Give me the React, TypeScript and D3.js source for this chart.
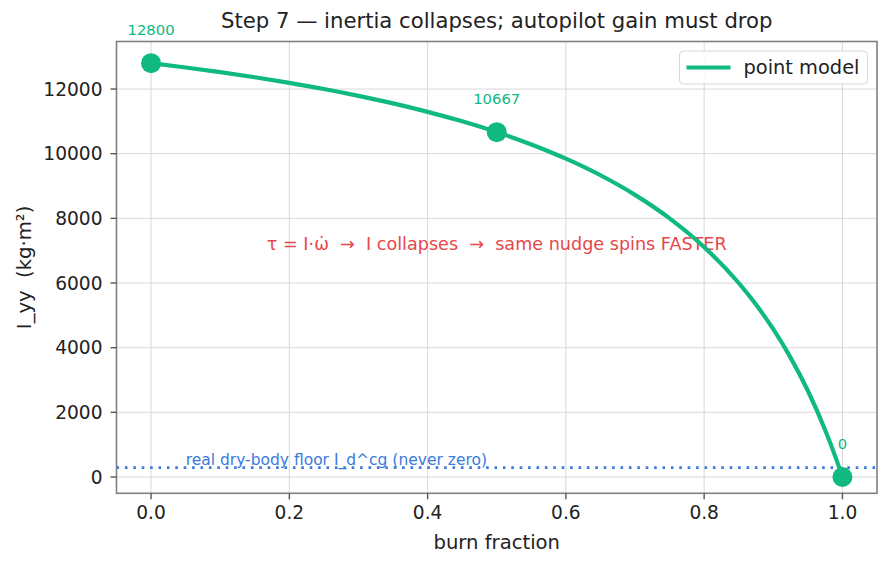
import * as d3 from 'd3';
import React from 'react';

// I_yy vs burn fraction (point-mass model)
const burnFrac = [0, 0.05, 0.1, 0.15, 0.2, 0.25, 0.3, 0.35, 0.4, 0.45, 0.5, 0.55, 0.6, 0.65, 0.7, 0.75, 0.8, 0.85, 0.875, 0.9, 0.925, 0.95, 0.975, 0.99, 1.0];
const iyy = [12800, 12667, 12522, 12364, 12190, 12000, 11789, 11556, 11294, 11000, 10667, 10286, 9846, 9333, 8727, 8000, 7111, 6000, 5333, 4571, 3692, 2667, 1455, 615, 0];

// highlighted points with value labels
const markFrac = [0, 0.5, 1.0];
const markVal = [12800, 10667, 0];

const floorVal = 290;
const xTicks = [0, 0.2, 0.4, 0.6, 0.8, 1.0];
const yTicks = [0, 2000, 4000, 6000, 8000, 10000, 12000];

const GREEN = '#10b981';
const BLUE = '#3a7bdc';
const RED = '#e6474b';
const FONT = '"DejaVu Sans", sans-serif';

const App: React.FC = () => {
  const W = 890;
  const H = 567;
  const margin = { top: 41.5, right: 13, bottom: 73.7, left: 116.5 };
  const innerW = W - margin.left - margin.right;
  const innerH = H - margin.top - margin.bottom;

  const x = d3.scaleLinear().domain([-0.05, 1.05]).range([0, innerW]);
  const y = d3.scaleLinear().domain([-504, 13470]).range([innerH, 0]);

  const line = d3
    .line<number>()
    .x((_, i) => x(burnFrac[i]))
    .y(d => y(d))
    .curve(d3.curveMonotoneX);

  return (
    <svg width={W} height={H} style={{ position: 'absolute', left: 0, top: 0, background: '#fff', whiteSpace: 'pre' }} fontFamily={FONT}>
      <text x={margin.left + innerW / 2} y={28} textAnchor="middle" fontSize={21.2} fill="#222">
        Step 7 — inertia collapses; autopilot gain must drop
      </text>
      <g transform={`translate(${margin.left}, ${margin.top})`}>
        {/* grid */}
        {xTicks.map(t => (
          <line key={`gx${t}`} x1={x(t)} x2={x(t)} y1={0} y2={innerH} stroke="#d4d4d4" strokeWidth={0.9} />
        ))}
        {yTicks.map(t => (
          <line key={`gy${t}`} x1={0} x2={innerW} y1={y(t)} y2={y(t)} stroke="#d4d4d4" strokeWidth={0.9} />
        ))}

        {/* dry-body floor */}
        <line x1={0} x2={innerW} y1={y(floorVal)} y2={y(floorVal)} stroke={BLUE} strokeWidth={2.6} strokeDasharray="2.6,5.8" />
        <text x={x(0.05)} y={y(floorVal) - 2.5} fontSize={15.5} fill={BLUE}>
          real dry-body floor I_d^cg (never zero)
        </text>

        <text x={x(0.5)} y={y(7200)} textAnchor="middle" dominantBaseline="central" fontSize={17.6} fill={RED} xmlSpace="preserve">
          {'τ = I·ω̇  →  I collapses  →  same nudge spins FASTER'}
        </text>

        {/* curve */}
        <path d={line(iyy) ?? ''} fill="none" stroke={GREEN} strokeWidth={4.2} strokeLinecap="round" />
        {markFrac.map((f, i) => (
          <g key={`m${f}`}>
            <circle cx={x(f)} cy={y(markVal[i])} r={10} fill={GREEN} />
            <text x={x(f)} y={y(markVal[i]) - 28} textAnchor="middle" fontSize={14.8} fill={GREEN}>
              {markVal[i]}
            </text>
          </g>
        ))}

        {/* frame */}
        <rect x={0} y={0} width={innerW} height={innerH} fill="none" stroke="#808080" strokeWidth={1.6} />

        {/* axes */}
        {xTicks.map(t => (
          <g key={`tx${t}`} transform={`translate(${x(t)}, ${innerH})`}>
            <line y1={0} y2={6} stroke="#555" strokeWidth={1.4} />
            <text y={26} textAnchor="middle" fontSize={18.6} fill="#222">
              {d3.format('.1f')(t)}
            </text>
          </g>
        ))}
        {yTicks.map(t => (
          <g key={`ty${t}`} transform={`translate(0, ${y(t)})`}>
            <line x1={0} x2={-6} stroke="#555" strokeWidth={1.4} />
            <text x={-14} dy="0.36em" textAnchor="end" fontSize={18.6} fill="#222">
              {t}
            </text>
          </g>
        ))}

        <text x={innerW / 2} y={innerH + 56} textAnchor="middle" fontSize={19.6} fill="#222">
          burn fraction
        </text>
        <text
          transform={`translate(${-86}, ${innerH / 2}) rotate(-90)`}
          textAnchor="middle"
          fontSize={19.6}
          fill="#222"
          xmlSpace="preserve"
        >
          {'I_yy  (kg·m²)'}
        </text>

        {/* legend */}
        <g transform={`translate(${innerW - 197.5}, 9.5)`}>
          <rect width={188} height={33} rx={4} fill="#fff" fillOpacity={0.85} stroke="#d6d6d6" strokeWidth={1} />
          <line x1={7} x2={51} y1={16.5} y2={16.5} stroke={GREEN} strokeWidth={4.2} />
          <text x={64} y={16.5} dy="0.35em" fontSize={19.4} fill="#222">
            point model
          </text>
        </g>
      </g>
    </svg>
  );
};

export default App;
